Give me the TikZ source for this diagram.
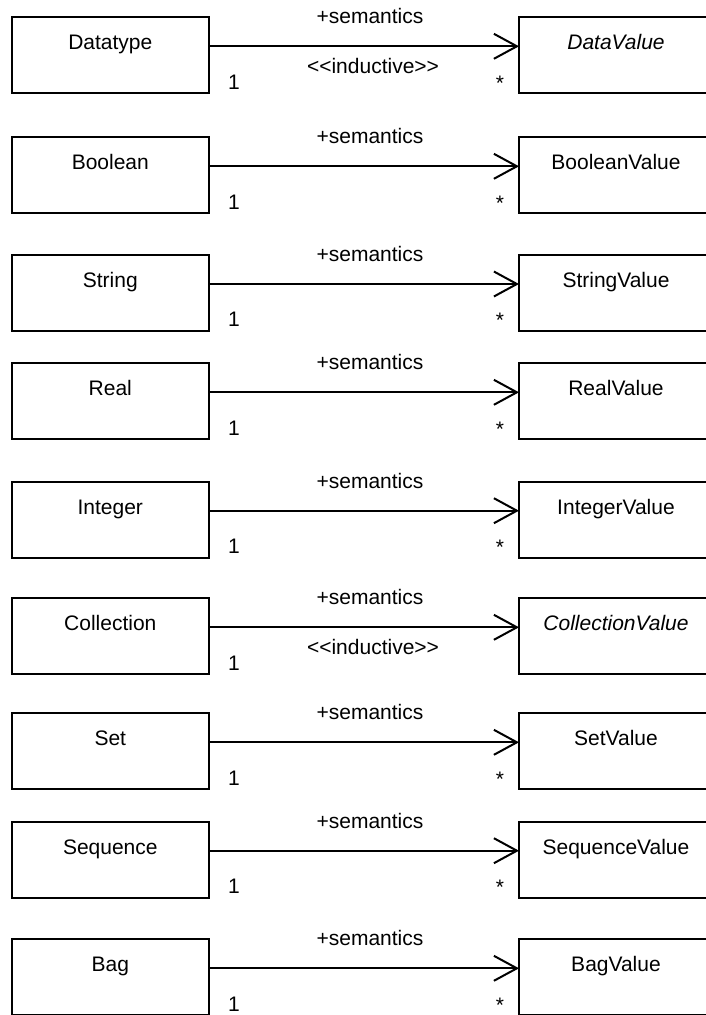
\documentclass[tikz,border=0pt]{standalone}
\usepackage{fontspec}
\setmainfont{Liberation Sans}
\usetikzlibrary{arrows.meta}
\begin{document}
\begin{tikzpicture}[x=1pt,y=-1pt,
  classbox/.style={draw,line width=2pt,rectangle,minimum width=197pt,
    minimum height=76pt,anchor=north west,inner sep=0pt,outer sep=0pt},
  uml/.style={inner sep=0pt,font=\fontsize{21}{25}\selectfont},
  classname/.style={uml,anchor=base},
  assoc/.style={line width=2pt,
    -{Straight Barb[length=23pt,width=25pt,line width=2pt]}}
]
\fill[white] (0,0) rectangle (706,1015);
\useasboundingbox (0,0) rectangle (706,1015);
\clip (0,0) rectangle (706,1015);
% top edge / left class / right class / abstract+inductive / show "*"
\foreach \t/\ln/\rn/\ind/\st [count=\i] in {
  17.3/Datatype/DataValue/1/1,
  137.3/Boolean/BooleanValue/0/1,
  255/String/StringValue/0/1,
  363.3/Real/RealValue/0/1,
  481.7/Integer/IntegerValue/0/1,
  598.3/Collection/CollectionValue/1/0,
  713.3/Set/SetValue/0/1,
  821.7/Sequence/SequenceValue/0/1,
  939.3/Bag/BagValue/0/1}{
  \pgfmathsetmacro\a{\t+29}
  \pgfmathsetmacro\b{\t+32.5}
  \node[classbox] (L\i) at (11.7,\t) {};
  \node[classbox] (R\i) at (519,\t) {};
  \node[classname] (Ln\i) at (110.3,\b) {\ln};
  \ifnum\ind=1
    \node[classname] (Rn\i) at (616,\b) {\itshape\rn};
    \node[uml,anchor=base] (ind\i) at (373,\a+26.7) {{<}{<}inductive{>}{>}};
  \else
    \node[classname] (Rn\i) at (616,\b) {\rn};
  \fi
  \draw[assoc] ([yshift=9pt]L\i.east) -- ([yshift=9pt]R\i.west);
  \node[uml,anchor=base] (sem\i) at (370,\a-22.7) {+semantics};
  \node[uml] (one\i) at (234,\a+35.5) {1};
  \ifnum\st=1
    \node[uml] (star\i) at (500,\a+36.5) {*};
  \fi
}
\end{tikzpicture}
\end{document}
